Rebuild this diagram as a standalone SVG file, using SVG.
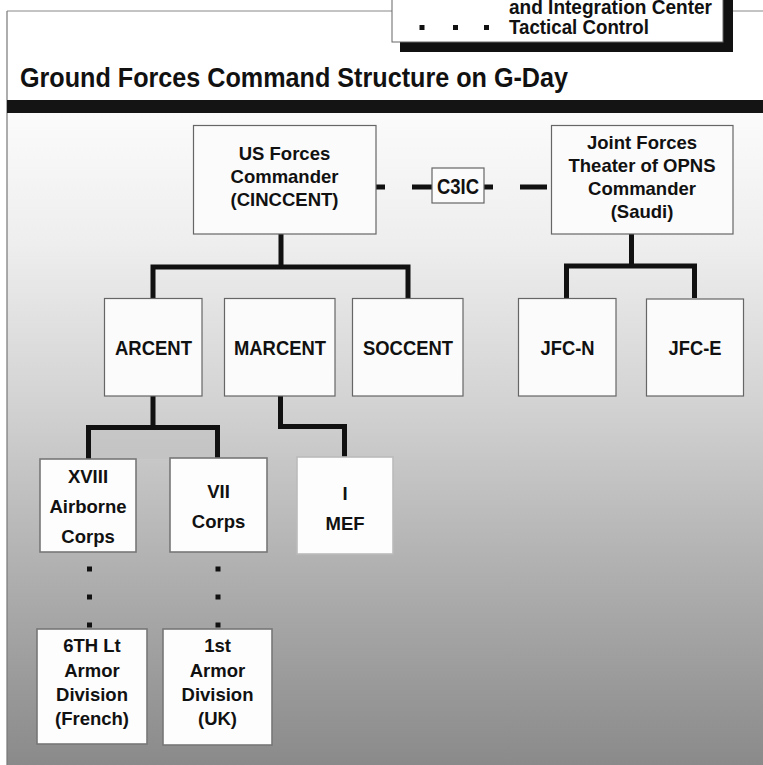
<svg xmlns="http://www.w3.org/2000/svg" width="763" height="765" viewBox="0 0 763 765">
<defs>
<linearGradient id="bg" gradientUnits="userSpaceOnUse" x1="0" y1="113" x2="0" y2="765">
<stop offset="0" stop-color="#fbfbfb"/>
<stop offset="0.2" stop-color="#eeeeee"/>
<stop offset="0.45" stop-color="#d2d2d2"/>
<stop offset="0.7" stop-color="#b0b0b0"/>
<stop offset="1" stop-color="#8a8a8a"/>
</linearGradient>
<style>
.t{font-family:"Liberation Sans",Arial,sans-serif;font-weight:bold;font-size:18.5px;fill:#111;text-anchor:middle}
.t2{font-family:"Liberation Sans",Arial,sans-serif;font-weight:bold;font-size:20.5px;fill:#111;text-anchor:middle}
.lg{font-family:"Liberation Sans",Arial,sans-serif;font-weight:bold;font-size:19.5px;fill:#111}
.box{fill:#fbfbfb;stroke:#666;stroke-width:1.2}
.box2{fill:#fdfdfd;stroke:#777;stroke-width:1.6}
.con{fill:none;stroke:#111;stroke-width:5;stroke-linejoin:miter}
.dot{fill:#111}
</style>
</defs>
<rect x="0" y="0" width="763" height="765" fill="#ffffff"/>
<rect x="7" y="113" width="756" height="652" fill="url(#bg)"/>
<rect x="91" y="430" width="124" height="29" fill="#c2c2c2" opacity="0.6"/>
<line x1="7" y1="11" x2="392" y2="11" stroke="#888" stroke-width="1"/>
<line x1="733" y1="11" x2="763" y2="11" stroke="#888" stroke-width="1"/>
<line x1="7" y1="11" x2="7" y2="765" stroke="#777" stroke-width="1.2"/>
<rect x="7" y="100" width="756" height="13" fill="#141414"/>

<g id="legend">
<rect x="400" y="0" width="333" height="52" fill="#111"/>
<rect x="392" y="-1" width="331" height="43" fill="#ffffff" stroke="#666" stroke-width="1"/>
<text class="lg" x="509" y="14" textLength="203" lengthAdjust="spacingAndGlyphs">and Integration Center</text>
<text class="lg" x="509" y="34" textLength="140" lengthAdjust="spacingAndGlyphs">Tactical Control</text>
<rect class="dot" x="419.5" y="25" width="5" height="5"/>
<rect class="dot" x="453" y="25" width="5" height="5"/>
<rect class="dot" x="484" y="25" width="5" height="5"/>
</g>

<text id="title" x="20" y="87" style="font-family:'Liberation Sans Narrow','Liberation Sans',Arial,sans-serif;font-weight:bold;font-size:28px;fill:#111" textLength="548" lengthAdjust="spacingAndGlyphs">Ground Forces Command Structure on G-Day</text>

<g id="connectors">
<path class="con" d="M153,298 V267 H408 V298 M281,234 V267"/>
<path class="con" d="M566.5,298 V266 H694.5 V298 M631.5,234 V266"/>
<path class="con" d="M88.5,459 V427.5 H217.5 V459 M153,396 V427.5"/>
<path class="con" d="M280.5,396 V426.5 H344.5 V457"/>
<g fill="#111">
<rect x="376" y="184.5" width="9" height="5"/>
<rect x="412" y="184.5" width="20" height="5"/>
<rect x="484" y="184.5" width="9" height="5"/>
<rect x="520" y="184.5" width="27" height="5"/>
<rect x="87" y="566.5" width="5" height="5"/>
<rect x="87" y="594.5" width="5" height="5"/>
<rect x="87" y="622.5" width="5" height="5"/>
<rect x="215.5" y="566.5" width="5" height="5"/>
<rect x="215.5" y="594.5" width="5" height="5"/>
<rect x="215.5" y="622.5" width="5" height="5"/>
</g>
</g>

<g id="c3ic">
<rect class="box" x="432" y="168" width="52" height="35"/>
<text class="t2" x="458" y="194" style="font-size:22px" textLength="42" lengthAdjust="spacingAndGlyphs">C3IC</text>
</g>

<g id="cinccent">
<rect class="box" x="193.5" y="125.5" width="182.5" height="108.5"/>
<text class="t" x="284.5" y="160">US Forces</text>
<text class="t" x="284.5" y="183">Commander</text>
<text class="t" x="284.5" y="206">(CINCCENT)</text>
</g>

<g id="jfc">
<rect class="box" x="551.5" y="125.5" width="181.5" height="108.5"/>
<text class="t" x="642" y="149">Joint Forces</text>
<text class="t" x="642" y="172">Theater of OPNS</text>
<text class="t" x="642" y="195">Commander</text>
<text class="t" x="642" y="218">(Saudi)</text>
</g>

<g id="arcent">
<rect class="box" x="104.5" y="298.5" width="97.5" height="97.5"/>
<text class="t2" x="153.5" y="355" textLength="77" lengthAdjust="spacingAndGlyphs">ARCENT</text>
</g>
<g id="marcent">
<rect class="box" x="224.5" y="298.5" width="110.5" height="97.5"/>
<text class="t2" x="280" y="355" textLength="92" lengthAdjust="spacingAndGlyphs">MARCENT</text>
</g>
<g id="soccent">
<rect class="box" x="352.5" y="298.5" width="110.5" height="97.5"/>
<text class="t2" x="408" y="355" textLength="90" lengthAdjust="spacingAndGlyphs">SOCCENT</text>
</g>
<g id="jfcn">
<rect class="box" x="518.5" y="298.5" width="97.5" height="97.5"/>
<text class="t2" x="567.5" y="355" textLength="54" lengthAdjust="spacingAndGlyphs">JFC-N</text>
</g>
<g id="jfce">
<rect class="box" x="646.5" y="299" width="97" height="97"/>
<text class="t2" x="695" y="355" textLength="53" lengthAdjust="spacingAndGlyphs">JFC-E</text>
</g>

<g id="xviii">
<rect class="box2" x="40" y="459" width="96" height="93"/>
<text class="t" x="88" y="483">XVIII</text>
<text class="t" x="88" y="513">Airborne</text>
<text class="t" x="88" y="543">Corps</text>
</g>
<g id="vii">
<rect class="box2" x="170" y="458" width="97" height="94"/>
<text class="t" x="218.5" y="498">VII</text>
<text class="t" x="218.5" y="528">Corps</text>
</g>
<g id="imef">
<rect class="box2" x="297" y="457" width="96" height="97" style="stroke:#bbb"/>
<text class="t" x="345" y="500">I</text>
<text class="t" x="345" y="530">MEF</text>
</g>

<g id="french">
<rect class="box2" x="37" y="629" width="110" height="115"/>
<text class="t" x="92" y="652">6TH Lt</text>
<text class="t" x="92" y="677">Armor</text>
<text class="t" x="92" y="701">Division</text>
<text class="t" x="92" y="725">(French)</text>
</g>
<g id="uk">
<rect class="box2" x="163" y="629" width="109" height="116"/>
<text class="t" x="217.5" y="652">1st</text>
<text class="t" x="217.5" y="677">Armor</text>
<text class="t" x="217.5" y="701">Division</text>
<text class="t" x="217.5" y="725">(UK)</text>
</g>
</svg>
